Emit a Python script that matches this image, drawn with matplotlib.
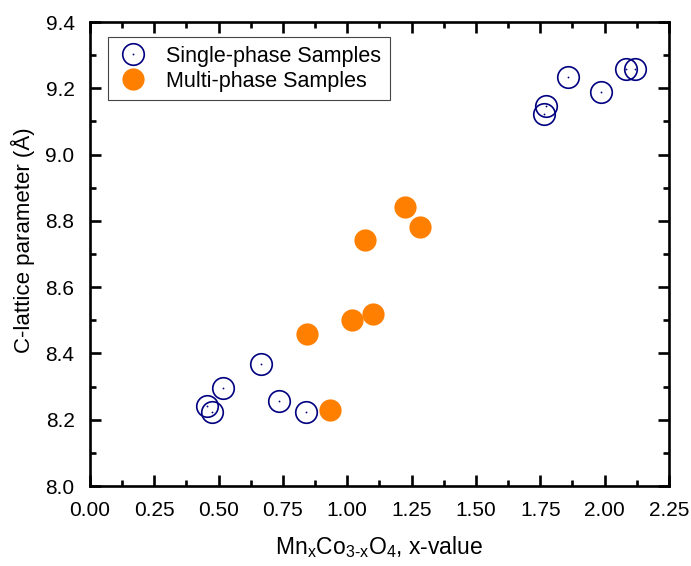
import matplotlib
matplotlib.use("Agg")
import matplotlib.pyplot as plt
from matplotlib.ticker import MultipleLocator, FormatStrFormatter
from matplotlib.legend_handler import HandlerTuple

plt.rcParams["font.family"] = ["Liberation Sans", "DejaVu Sans"]
plt.rcParams["mathtext.fontset"] = "custom"
plt.rcParams["mathtext.rm"] = "Liberation Sans"
plt.rcParams["mathtext.it"] = "Liberation Sans"
plt.rcParams["mathtext.default"] = "regular"

# single-phase samples (open circles)
single_x = [0.456, 0.473, 0.518, 0.667, 0.736, 0.839, 1.766, 1.771, 1.859, 1.986, 2.083, 2.118]
single_y = [8.242, 8.223, 8.296, 8.369, 8.257, 8.224, 9.122, 9.147, 9.235, 9.189, 9.257, 9.257]

# multi-phase samples (filled)
multi_x = [0.842, 0.933, 1.017, 1.069, 1.101, 1.224, 1.283]
multi_y = [8.460, 8.228, 8.500, 8.742, 8.519, 8.843, 8.781]

NAVY = "#000080"
ORANGE = "#FF8000"

fig = plt.figure(figsize=(6.91, 5.66), dpi=100)
ax = fig.add_axes([0.130, 0.1413, 0.838, 0.8197])

h_open, = ax.plot(single_x, single_y, ls="none", marker="o", ms=15.5,
                  mfc="none", mec=NAVY, mew=1.2)
h_dot, = ax.plot(single_x, single_y, ls="none", marker="o", ms=1.3,
                 mfc=NAVY, mec=NAVY, mew=0)
h_fill, = ax.plot(multi_x, multi_y, ls="none", marker="o", ms=16,
                  mfc=ORANGE, mec=ORANGE, mew=0)

ax.set_xlim(0, 2.25)
ax.set_ylim(8.0, 9.4)
ax.xaxis.set_major_locator(MultipleLocator(0.25))
ax.xaxis.set_minor_locator(MultipleLocator(0.125))
ax.yaxis.set_major_locator(MultipleLocator(0.2))
ax.yaxis.set_minor_locator(MultipleLocator(0.1))
ax.xaxis.set_major_formatter(FormatStrFormatter("%.2f"))
ax.yaxis.set_major_formatter(FormatStrFormatter("%.1f"))

for s in ax.spines.values():
    s.set_linewidth(1.9)
ax.tick_params(which="both", direction="in", top=True, right=True, width=1.9)
ax.tick_params(which="major", length=8, labelsize=15)
ax.tick_params(which="minor", length=4)
ax.tick_params(axis="x", which="major", pad=11)
ax.tick_params(axis="y", which="major", pad=11)

ax.set_xlabel(r"Mn$_{x}$Co$_{3\text{-}x}$O$_{4}$, x-value", fontsize=16.5, labelpad=10)
ax.set_ylabel("C-lattice parameter (Å)", fontsize=16, labelpad=4)
ax.yaxis.set_label_coords(-0.095, 0.53)

leg = ax.legend([(h_open, h_dot), h_fill], ["Single-phase Samples", "Multi-phase Samples"],
                handler_map={tuple: HandlerTuple(ndivide=1, pad=0)},
                loc="upper left", bbox_to_anchor=(0.031, 0.968), borderaxespad=0,
                fontsize=15.5, fancybox=False, framealpha=1, edgecolor="#444444",
                borderpad=0.4, labelspacing=0.2, handlelength=1.5, handletextpad=0.8)
leg.get_frame().set_linewidth(0.8)

fig.savefig("out.png", dpi=100)
